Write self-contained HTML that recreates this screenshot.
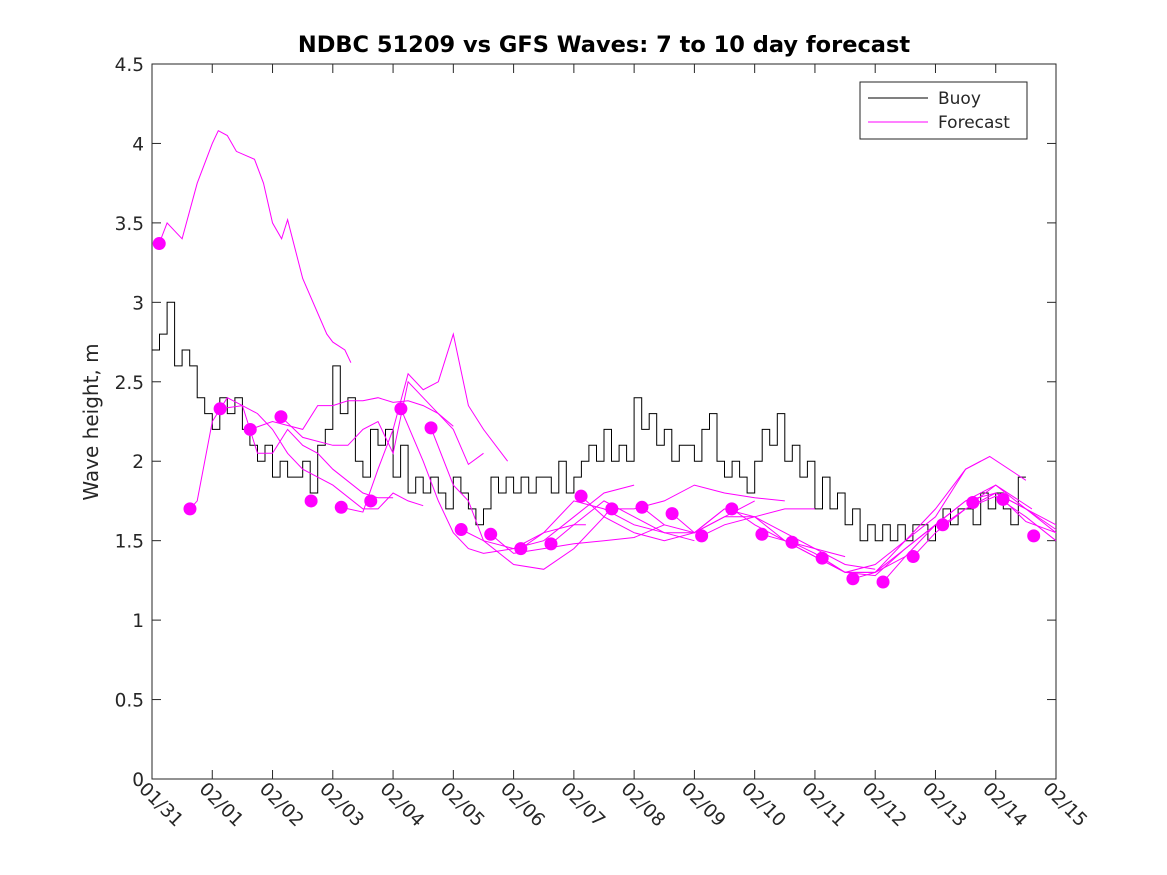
<!DOCTYPE html>
<html><head><meta charset="utf-8"><style>
body{margin:0;background:#fff}
svg{display:block;font-family:"DejaVu Sans","Liberation Sans",sans-serif}
</style></head><body>
<svg id="c" width="1167" height="875">
<rect x="0" y="0" width="1167" height="875" fill="#fff"/>
<text x="604" y="52" text-anchor="middle" font-size="22.5" font-weight="bold">NDBC 51209 vs GFS Waves: 7 to 10 day forecast</text>
<text transform="translate(98,422) rotate(-90)" text-anchor="middle" font-size="20" fill="#262626">Wave height, m</text>
<g id="axes"></g>
<g id="plot"></g>
<g>
<rect x="860" y="82" width="167" height="57" fill="#fff" stroke="#262626" stroke-width="1"/>
<line x1="868" y1="98" x2="928" y2="98" stroke="#000" stroke-width="1"/>
<text x="938" y="104" font-size="17" fill="#262626">Buoy</text>
<line x1="868" y1="122" x2="928" y2="122" stroke="#f0f" stroke-width="1"/>
<text x="938" y="128" font-size="17" fill="#262626">Forecast</text>
</g>
</svg>
<script>
const xTickLabels=["01/31","02/01","02/02","02/03","02/04","02/05","02/06","02/07","02/08","02/09","02/10","02/11","02/12","02/13","02/14","02/15"];
const yTicks=[0,0.5,1,1.5,2,2.5,3,3.5,4,4.5];
const buoyStep=0.125;
const buoyVals=[2.7,2.8,3.0,2.6,2.7,2.6,2.4,2.3,
2.2,2.4,2.3,2.4,2.2,2.1,2.0,2.1,
1.9,2.0,1.9,1.9,2.0,1.8,2.1,2.2,
2.6,2.3,2.4,2.0,1.9,2.2,2.1,2.2,
1.9,2.1,1.8,1.9,1.8,1.9,1.8,1.7,
1.9,1.8,1.7,1.6,1.7,1.9,1.8,1.9,
1.8,1.9,1.8,1.9,1.9,1.8,2.0,1.8,
1.9,2.0,2.1,2.0,2.2,2.0,2.1,2.0,
2.4,2.2,2.3,2.1,2.2,2.0,2.1,2.1,
2.0,2.2,2.3,2.0,1.9,2.0,1.9,1.8,
2.0,2.2,2.1,2.3,2.0,2.1,1.9,2.0,
1.7,1.9,1.7,1.8,1.6,1.7,1.5,1.6,
1.5,1.6,1.5,1.6,1.5,1.6,1.6,1.5,
1.6,1.7,1.6,1.7,1.7,1.6,1.8,1.7,
1.8,1.7,1.6,1.9];
const dotDays=[0.12,0.63,1.13,1.63,2.14,2.64,3.14,3.63,4.13,4.63,5.13,5.62,6.12,6.62,7.12,7.63,8.13,8.63,9.12,9.62,10.12,10.62,11.12,11.63,12.13,12.63,13.12,13.62,14.12,14.63];
const dotVals=[3.37,1.70,2.33,2.20,2.28,1.75,1.71,1.75,2.33,2.21,1.57,1.54,1.45,1.48,1.78,1.70,1.71,1.67,1.53,1.70,1.54,1.49,1.39,1.26,1.24,1.40,1.60,1.74,1.76,1.53];
const fcDays=[
[0.12,0.25,0.5,0.75,1.0,1.1,1.25,1.4,1.7,1.85,2.0,2.15,2.25,2.5,2.9,3.0,3.2,3.3],
[0.63,0.75,1.0,1.25,1.5,1.75,2.0,2.25,2.5,2.75,3.0,3.5,3.75,4.0],
[1.13,1.5,1.75,2.0,2.25,2.5,3.0,3.5,3.75,4.0,4.25,4.5],
[1.63,2.0,2.5,2.75,3.0,3.25,3.5,3.75,4.0,4.25,4.5,4.75,5.0],
[2.14,2.5,3.0,3.25,3.5,3.75,4.0,4.25,4.5,5.0,5.25,5.5],
[3.14,3.5,3.75,4.0,4.25,4.5,4.75,5.0,5.25,5.5,5.9],
[4.13,4.5,4.75,5.0,5.25,5.5,6.0,6.5,7.0,7.2],
[4.63,5.0,5.25,5.5,6.0,6.5,7.0,7.5,7.6],
[5.13,5.5,6.0,6.5,7.0,7.5,8.0],
[5.62,6.0,6.5,7.0,7.5,8.0,8.5],
[6.12,6.5,7.0,7.5,8.0,8.5,9.0],
[6.62,7.0,7.5,8.0,8.5,9.0,9.5],
[7.12,7.5,8.0,8.5,9.0,9.5,10.0],
[7.63,8.0,8.5,9.0,9.5,10.0,10.5],
[8.13,8.5,9.0,9.5,10.0,10.5,11.0],
[8.63,9.0,9.5,10.0,10.5,11.0,11.5],
[9.12,9.5,10.0,10.5,11.0,11.5,12.0],
[9.62,10.0,10.5,11.0,11.5,12.0,12.5],
[10.12,10.5,11.0,11.5,12.0,12.5,13.0],
[10.62,11.0,11.5,12.0,12.5,13.0,13.5,13.75],
[11.12,11.5,12.0,12.5,13.0,13.5,13.9,14.5],
[11.63,12.0,12.5,13.0,13.5,14.0,14.6],
[12.13,12.5,13.0,13.5,14.0,14.5,15.0],
[12.63,13.0,13.5,14.0,14.5,15.0],
[13.12,13.5,14.0,14.5,15.0],
[13.62,14.0,14.5,15.0],
[14.12,14.5,15.0]];
const fcVals=[
[3.37,3.5,3.4,3.75,4.0,4.08,4.05,3.95,3.9,3.75,3.5,3.4,3.52,3.15,2.8,2.75,2.7,2.62],
[1.7,1.75,2.25,2.4,2.35,2.05,2.05,2.2,2.1,2.05,1.95,1.8,1.77,1.77],
[2.33,2.35,2.3,2.2,2.05,1.95,1.85,1.7,1.7,1.8,1.75,1.72],
[2.2,2.25,2.2,2.35,2.35,2.38,2.38,2.4,2.37,2.38,2.35,2.3,2.22],
[2.28,2.15,2.1,2.1,2.2,2.25,2.05,2.5,2.4,2.2,1.98,2.05],
[1.71,1.68,1.95,2.2,2.55,2.45,2.5,2.8,2.35,2.2,2.0],
[2.33,2.0,1.75,1.55,1.45,1.42,1.45,1.55,1.6,1.6],
[2.21,1.85,1.75,1.5,1.35,1.32,1.45,1.65,1.7],
[1.57,1.5,1.45,1.5,1.65,1.8,1.85],
[1.54,1.42,1.45,1.48,1.5,1.52,1.6],
[1.45,1.55,1.75,1.7,1.6,1.55,1.5],
[1.48,1.6,1.75,1.65,1.55,1.55,1.7],
[1.78,1.65,1.55,1.5,1.55,1.65,1.75],
[1.70,1.7,1.75,1.85,1.8,1.77,1.75],
[1.71,1.6,1.55,1.65,1.65,1.7,1.7],
[1.67,1.55,1.7,1.65,1.55,1.45,1.4],
[1.53,1.6,1.65,1.5,1.45,1.35,1.32],
[1.70,1.6,1.5,1.4,1.3,1.3,1.4],
[1.54,1.5,1.4,1.3,1.28,1.45,1.6],
[1.49,1.42,1.3,1.3,1.5,1.65,1.95,2.0],
[1.39,1.3,1.35,1.5,1.7,1.95,2.03,1.88],
[1.26,1.3,1.45,1.6,1.75,1.85,1.7],
[1.24,1.4,1.6,1.75,1.8,1.7,1.55],
[1.40,1.55,1.7,1.78,1.65,1.5],
[1.60,1.7,1.8,1.7,1.6],
[1.74,1.85,1.7,1.57],
[1.76,1.62,1.55]];

const X0=152,X1=1056,Y0=779,Y1=64,DAYS=15,YMAX=4.5;
const xs=d=>X0+(X1-X0)*d/DAYS;
const ys=v=>Y0-(Y0-Y1)*v/YMAX;
const NS="http://www.w3.org/2000/svg";
function mk(tag,attrs,parent){const e=document.createElementNS(NS,tag);for(const k in attrs)e.setAttribute(k,attrs[k]);parent.appendChild(e);return e;}
const axes=document.getElementById('axes'),plot=document.getElementById('plot');
let r=mk('rect',{x:X0,y:Y1,width:X1-X0,height:Y0-Y1,fill:'none',stroke:'#262626','stroke-width':1},axes);


yTicks.forEach(v=>{
  const y=ys(v);
  let t=mk('line',{x1:X0,y1:y,x2:X0+9,y2:y,stroke:'#262626'},axes);
  
  
  let t2=mk('line',{x1:X1,y1:y,x2:X1-9,y2:y,stroke:'#262626'},axes);
  
  
  let l=mk('text',{x:X0-8,y:y+7,'text-anchor':'end','font-size':18.5,fill:'#262626'},axes);
  l.textContent=String(v);
  
  
});
xTickLabels.forEach((s,i)=>{
  const x=xs(i);
  let t=mk('line',{x1:x,y1:Y0,x2:x,y2:Y0-9,stroke:'#262626'},axes);
  
  
  let t2=mk('line',{x1:x,y1:Y1,x2:x,y2:Y1+9,stroke:'#262626'},axes);
  
  
  let l=mk('text',{transform:`translate(${x-14},${Y0+11}) rotate(45)`,'font-size':18.5,fill:'#262626'},axes);
  l.textContent=s;
  
  
});
let pts=[];
buoyVals.forEach((v,i)=>{
  const y=ys(v).toFixed(1);
  pts.push(xs(i*buoyStep).toFixed(1)+','+y);
  pts.push(xs((i+1)*buoyStep).toFixed(1)+','+y);
});
let bl=mk('polyline',{points:pts.join(' '),fill:'none',stroke:'#000','stroke-width':1},plot);


fcDays.forEach((ds,j)=>{
  const p=ds.map((d,i)=>xs(d).toFixed(1)+','+ys(fcVals[j][i]).toFixed(1)).join(' ');
  let fl=mk('polyline',{points:p,fill:'none',stroke:'#f0f','stroke-width':1},plot);
  
  
});
dotDays.forEach((d,i)=>{
  let c=mk('circle',{cx:xs(d),cy:ys(dotVals[i]),r:6.5,fill:'#f0f'},plot);
  
  
});
</script>
</body></html>
